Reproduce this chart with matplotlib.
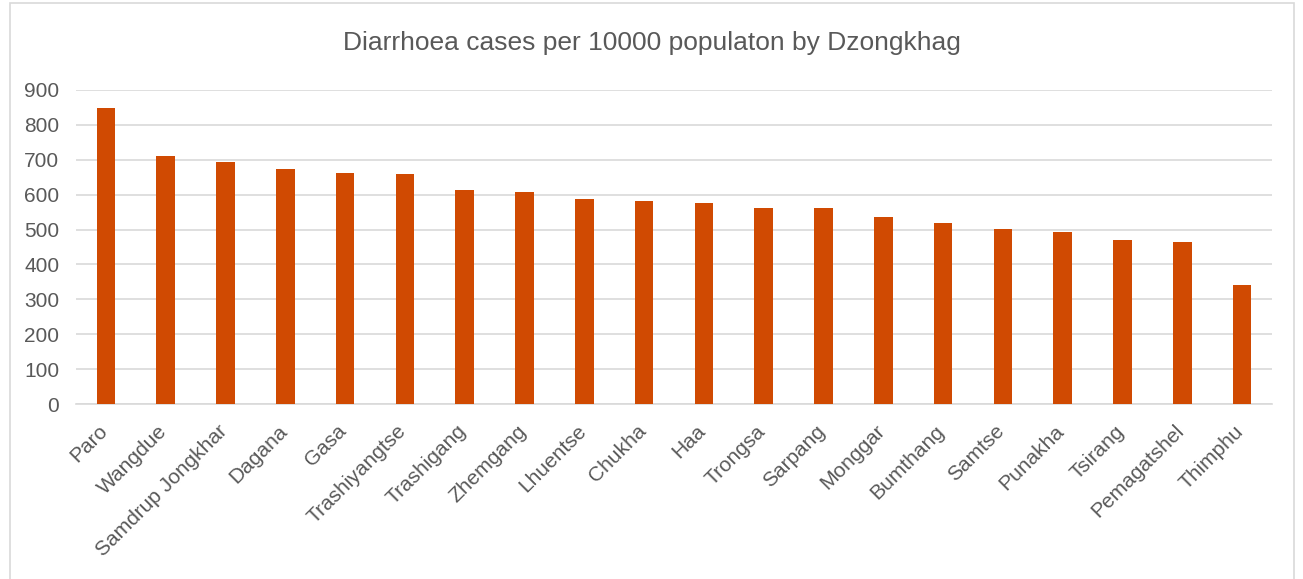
import matplotlib.pyplot as plt
from matplotlib.patches import Rectangle
from matplotlib.transforms import ScaledTranslation

plt.rcParams["font.family"] = ["Liberation Sans", "DejaVu Sans"]

dzongkhags = [
    "Paro", "Wangdue", "Samdrup Jongkhar", "Dagana", "Gasa", "Trashiyangtse",
    "Trashigang", "Zhemgang", "Lhuentse", "Chukha", "Haa", "Trongsa",
    "Sarpang", "Monggar", "Bumthang", "Samtse", "Punakha", "Tsirang",
    "Pemagatshel", "Thimphu",
]
cases_per_10000 = [
    849, 711, 695, 674, 661, 659,
    614, 608, 588, 583, 576, 563,
    563, 535, 520, 501, 492, 471,
    463, 342,
]
y_ticks = [0, 100, 200, 300, 400, 500, 600, 700, 800, 900]

bar_color = "#D04A02"
text_color = "#595959"
grid_color = "#D9D9D9"

fig = plt.figure(figsize=(13.03, 5.79), dpi=100)
ax = fig.add_axes([0.0583, 0.3022, 0.9179, 0.5424])

x = range(len(dzongkhags))
ax.bar(x, cases_per_10000, width=0.31, color=bar_color, zorder=3)

ax.set_xlim(-0.5, len(dzongkhags) - 0.5)
ax.set_ylim(0, 900)
ax.set_yticks(y_ticks)
ax.set_yticklabels([str(t) for t in y_ticks], fontsize=15, color=text_color)
ax.set_xticks(list(x))
ax.set_xticklabels(dzongkhags, rotation=45, ha="right", rotation_mode="anchor",
                   fontsize=15, color=text_color)
ax.tick_params(axis="both", length=0)
ax.tick_params(axis="x", pad=9)
ax.tick_params(axis="y", pad=12)

# nudge the rotated labels so they line up like the original
shift = ScaledTranslation(-0.08, -0.05, fig.dpi_scale_trans)
for label in ax.get_xticklabels():
    label.set_transform(label.get_transform() + shift)

ax.grid(axis="y", color=grid_color, linewidth=1.2, zorder=0)
for side in ["top", "right", "left"]:
    ax.spines[side].set_visible(False)
ax.spines["bottom"].set_color(grid_color)
ax.spines["bottom"].set_linewidth(1.2)

fig.text(0.5, 0.925, "Diarrhoea cases per 10000 populaton by Dzongkhag",
         ha="center", va="center", fontsize=19, color=text_color)

# chart area border
fig.patches.append(Rectangle((0.008, -0.01), 0.985, 1.005, transform=fig.transFigure,
                             fill=False, edgecolor=grid_color, linewidth=1.2))

fig.savefig("out.png", dpi=100)
